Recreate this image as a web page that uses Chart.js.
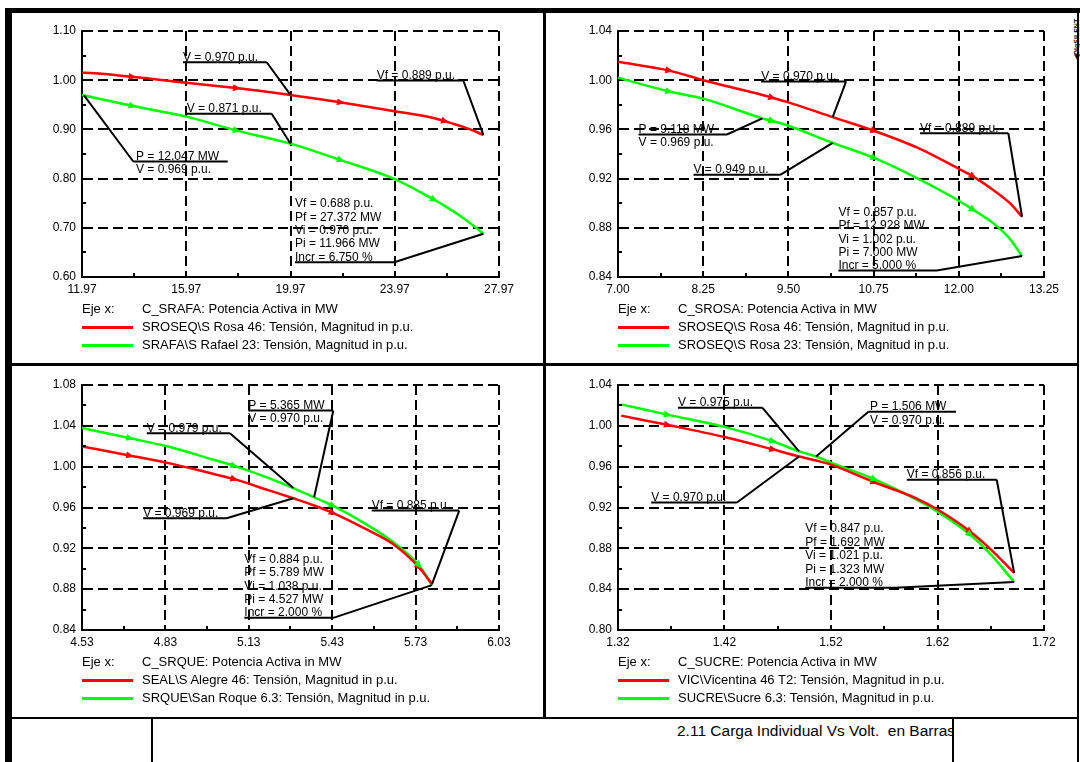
<!DOCTYPE html>
<html>
<head>
<meta charset="utf-8">
<script src="https://cdn.jsdelivr.net/npm/chart.js@4/dist/chart.umd.min.js"></script>
<style>
  html, body { margin: 0; padding: 0; background: #fff; }
  #page { position: relative; width: 1080px; height: 762px; overflow: hidden; background: #fff;
          font-family: "Liberation Sans", Arial, sans-serif; color: #000; }
  .bar { position: absolute; background: #000; }
  canvas { position: absolute; }
  .txt { position: absolute; font-size: 13px; line-height: 14px; white-space: nowrap; color: #000; }
  .key { position: absolute; height: 3px; }
  #title { position: absolute; left: 677px; top: 722px; width: 275px; height: 20px; overflow: hidden;
           font-size: 15.5px; line-height: 18px; white-space: nowrap; }
  #logo { position: absolute; left: 1052px; top: 30px; width: 50px; height: 10px; transform: rotate(-90deg);
          font-size: 7px; font-weight: bold; line-height: 10px; white-space: nowrap; }
</style>
</head>
<body>
<div id="page">
  <div id="title">2.11 Carga Individual Vs Volt.&nbsp; en Barras</div>
  <div id="logo">&#9664;DIgSILENT</div>
</div>
<script>
// ---------- C_SRAFA sweep ----------
const xTicks1 = [11.97, 15.97, 19.97, 23.97, 27.97];
const yTicks1 = [0.60, 0.70, 0.80, 0.90, 1.00, 1.10];
const P1     = [11.966, 12.047, 13.88, 15.97, 17.88, 19.97, 21.87, 23.97, 25.45, 25.87, 26.70, 27.372];
const red1   = [1.015, 1.015, 1.007, 0.995, 0.984, 0.970, 0.955, 0.937, 0.923, 0.917, 0.903, 0.889];
const green1 = [0.970, 0.969, 0.948, 0.926, 0.898, 0.871, 0.838, 0.799, 0.758, 0.745, 0.716, 0.688];
const incr1 = 6.750;
const axisTitle1 = "C_SRAFA: Potencia Activa in MW";
const names1 = ["SROSEQ\\S Rosa 46: Tensión, Magnitud in p.u.", "SRAFA\\S Rafael 23: Tensión, Magnitud in p.u."];

// ---------- C_SROSA sweep ----------
const xTicks2 = [7.00, 8.25, 9.50, 10.75, 12.00, 13.25];
const yTicks2 = [0.84, 0.88, 0.92, 0.96, 1.00, 1.04];
const P2     = [7.000, 7.74, 8.25, 9.118, 9.25, 9.50, 10.15, 10.75, 11.40, 12.00, 12.20, 12.50, 12.75, 12.928];
const red2   = [1.015, 1.008, 1.000, 0.988, 0.986, 0.982, 0.970, 0.959, 0.945, 0.928, 0.922, 0.911, 0.900, 0.889];
const green2 = [1.002, 0.991, 0.985, 0.969, 0.967, 0.963, 0.949, 0.937, 0.920, 0.902, 0.895, 0.884, 0.871, 0.857];
const incr2 = 5.000;
const axisTitle2 = "C_SROSA: Potencia Activa in MW";
const names2 = ["SROSEQ\\S Rosa 46: Tensión, Magnitud in p.u.", "SROSEQ\\S Rosa 23: Tensión, Magnitud in p.u."];

// ---------- C_SRQUE sweep ----------
const xTicks3 = [4.53, 4.83, 5.13, 5.43, 5.73, 6.03];
const yTicks3 = [0.84, 0.88, 0.92, 0.96, 1.00, 1.04, 1.08];
const P3     = [4.527, 4.70, 4.85, 5.00, 5.075, 5.20, 5.29, 5.365, 5.43, 5.55, 5.65, 5.74, 5.789];
const red3   = [1.020, 1.011, 1.003, 0.993, 0.988, 0.977, 0.969, 0.962, 0.955, 0.939, 0.924, 0.902, 0.885];
const green3 = [1.038, 1.028, 1.019, 1.007, 1.001, 0.989, 0.979, 0.970, 0.962, 0.944, 0.926, 0.904, 0.884];
const incr3 = 2.000;
const axisTitle3 = "C_SRQUE: Potencia Activa in MW";
const names3 = ["SEAL\\S Alegre 46: Tensión, Magnitud in p.u.", "SRQUE\\San Roque 6.3: Tensión, Magnitud in p.u."];

// ---------- C_SUCRE sweep ----------
const xTicks4 = [1.32, 1.42, 1.52, 1.62, 1.72];
const yTicks4 = [0.80, 0.84, 0.88, 0.92, 0.96, 1.00, 1.04];
const P4     = [1.323, 1.366, 1.42, 1.465, 1.49, 1.506, 1.52, 1.56, 1.60, 1.62, 1.65, 1.67, 1.692];
const red4   = [1.010, 1.001, 0.989, 0.977, 0.970, 0.966, 0.962, 0.945, 0.929, 0.918, 0.897, 0.879, 0.856];
const green4 = [1.021, 1.011, 0.999, 0.985, 0.975, 0.970, 0.964, 0.948, 0.928, 0.916, 0.894, 0.874, 0.847];
const incr4 = 2.000;
const axisTitle4 = "C_SUCRE: Potencia Activa in MW";
const names4 = ["VIC\\Vicentina 46 T2: Tensión, Magnitud in p.u.", "SUCRE\\Sucre 6.3: Tensión, Magnitud in p.u."];

// direction arrows (indices into the sweep)
const arrows1 = { red: [2, 4, 6, 9], green: [2, 4, 6, 8] };
const arrows2 = { red: [1, 4, 7, 10], green: [1, 4, 7, 10] };
const arrows3 = { red: [1, 4, 8, 11], green: [1, 4, 8, 11] };
const arrows4 = { red: [1, 3, 7, 10], green: [1, 3, 7, 10] };

const FONT = '"Liberation Sans", Arial, sans-serif';
Chart.defaults.font.family = FONT;

const last = a => a.length - 1;
const fmtV = (k, v) => `${k} = ${v.toFixed(3)} p.u.`;
const fmtP = (k, p) => `${k} = ${p.toFixed(3)} MW`;
function infoLines(P, g, incr) {
  const n = last(P);
  return [fmtV('Vf', g[n]), fmtP('Pf', P[n]), fmtV('Vi', g[0]), fmtP('Pi', P[0]), `Incr = ${incr.toFixed(3)} %`];
}

// text callouts: anchor (x, y) in axis units, underline to x2, leader to point pt of dataset ds
const notes1 = [
  { ds: 0, pt: 5, x: 15.845, y: 1.0396, text: [fmtV('V', red1[5])], x2: 19.057 },
  { ds: 0, pt: last(P1), x: 23.277, y: 1.0024, text: [fmtV('Vf', red1[last(red1)])], x2: 26.60 },
  { ds: 1, pt: 5, x: 15.987, y: 0.9348, text: [fmtV('V', green1[5])], x2: 19.249 },
  { ds: 1, pt: 1, x: 14.042, y: 0.8378, text: [fmtP('P', P1[1]), fmtV('V', green1[1])], x1: 13.938, x2: 17.56, from: 'left' },
  { ds: 1, pt: last(P1), x: 20.143, y: 0.7413, text: infoLines(P1, green1, incr1), x2: 23.95, ul: 4 }
];
const notes2 = [
  { ds: 0, pt: 6, x: 9.101, y: 1.0002, text: [fmtV('V', red2[6])], x2: 10.347 },
  { ds: 0, pt: last(P2), x: 11.432, y: 0.9581, text: [fmtV('Vf', red2[last(red2)])], x2: 12.727 },
  { ds: 1, pt: 3, x: 7.302, y: 0.9571, text: [fmtP('P', P2[3]), fmtV('V', green2[3])], x2: 8.598 },
  { ds: 1, pt: 6, x: 8.108, y: 0.9243, text: [fmtV('V', green2[6])], x2: 9.380 },
  { ds: 1, pt: last(P2), x: 10.234, y: 0.8894, text: infoLines(P2, green2, incr2), x2: 11.677, ul: 4, gap: 13.2 }
];
const notes3 = [
  { ds: 1, pt: 7, x: 5.128, y: 1.0565, text: [fmtP('P', P3[7]), fmtV('V', green3[7])], x2: 5.434 },
  { ds: 1, pt: 6, x: 4.763, y: 1.0343, text: [fmtV('V', green3[6])], x2: 5.062 },
  { ds: 0, pt: 6, x: 4.750, y: 0.951, text: [fmtV('V', red3[6])], x2: 5.050 },
  { ds: 0, pt: last(P3), x: 5.572, y: 0.9585, text: [fmtV('Vf', red3[last(red3)])], x2: 5.887 },
  { ds: 1, pt: last(P3), x: 5.114, y: 0.9055, text: infoLines(P3, green3, incr3), x2: 5.434, ul: 4 }
];
const notes4 = [
  { ds: 1, pt: 4, x: 1.3763, y: 1.0191, text: [fmtV('V', green4[4])], x2: 1.4557 },
  { ds: 1, pt: 5, x: 1.5567, y: 1.0152, text: [fmtP('P', P4[5]), fmtV('V', green4[5])], x1: 1.5551, x2: 1.6374, from: 'left' },
  { ds: 0, pt: 4, x: 1.3512, y: 0.9264, text: [fmtV('V', red4[4])], x2: 1.4317 },
  { ds: 0, pt: last(P4), x: 1.5912, y: 0.9486, text: [fmtV('Vf', red4[last(red4)])], x2: 1.6756 },
  { ds: 1, pt: last(P4), x: 1.4958, y: 0.8957, text: infoLines(P4, green4, incr4), x2: 1.5802, ul: 4, gap: 13.5 }
];

// plot rectangles on the sheet: [left, top, right, bottom]
const panels = [
  { rect: [82, 31, 499, 277],    P: P1, red: red1, green: green1, xTicks: xTicks1, yTicks: yTicks1, title: axisTitle1, names: names1, arrows: arrows1, notes: notes1 },
  { rect: [618, 31, 1044, 277],  P: P2, red: red2, green: green2, xTicks: xTicks2, yTicks: yTicks2, title: axisTitle2, names: names2, arrows: arrows2, notes: notes2 },
  { rect: [82, 385, 499, 630],   P: P3, red: red3, green: green3, xTicks: xTicks3, yTicks: yTicks3, title: axisTitle3, names: names3, arrows: arrows3, notes: notes3 },
  { rect: [618, 385, 1044, 630], P: P4, red: red4, green: green4, xTicks: xTicks4, yTicks: yTicks4, title: axisTitle4, names: names4, arrows: arrows4, notes: notes4 }
];

const page = document.getElementById('page');

function addBar(l, t, w, h) {
  const d = document.createElement('div');
  d.className = 'bar';
  Object.assign(d.style, { left: l + 'px', top: t + 'px', width: w + 'px', height: h + 'px' });
  page.appendChild(d);
}
function addText(l, cy, s) {
  const d = document.createElement('div');
  d.className = 'txt';
  d.textContent = s;
  Object.assign(d.style, { left: l + 'px', top: (cy - 7) + 'px' });
  page.appendChild(d);
}

// overlay: direction arrows, minor ticks, callouts
function decorPlugin(panel) {
  return {
    id: 'decor',
    afterDatasetsDraw(chart) {
      const ctx = chart.ctx;
      const xs = chart.scales.x, ys = chart.scales.y, ca = chart.chartArea;
      ctx.save();
      // minor ticks, pointing inward
      ctx.strokeStyle = '#000';
      ctx.lineWidth = 2;
      ctx.setLineDash([]);
      for (let i = 0; i < panel.xTicks.length - 1; i++) {
        const px = Math.round(xs.getPixelForValue((panel.xTicks[i] + panel.xTicks[i + 1]) / 2));
        ctx.beginPath(); ctx.moveTo(px, ca.bottom); ctx.lineTo(px, ca.bottom - 4); ctx.stroke();
      }
      for (let i = 0; i < panel.yTicks.length - 1; i++) {
        const py = Math.round(ys.getPixelForValue((panel.yTicks[i] + panel.yTicks[i + 1]) / 2));
        ctx.beginPath(); ctx.moveTo(ca.left, py); ctx.lineTo(ca.left + 4, py); ctx.stroke();
      }
      // direction arrows along each curve
      chart.data.datasets.forEach((ds, di) => {
        const pts = chart.getDatasetMeta(di).data;
        (ds.arrowAt || []).forEach(k => {
          const p = pts[k], a = pts[Math.max(k - 1, 0)], b = pts[Math.min(k + 1, pts.length - 1)];
          let dx = b.x - a.x, dy = b.y - a.y;
          const len = Math.hypot(dx, dy) || 1; dx /= len; dy /= len;
          const nx = -dy, ny = dx;
          ctx.fillStyle = ds.borderColor;
          ctx.beginPath();
          ctx.moveTo(p.x + dx * 5, p.y + dy * 5);
          ctx.lineTo(p.x - dx * 3 + nx * 3.5, p.y - dy * 3 + ny * 3.5);
          ctx.lineTo(p.x - dx * 3 - nx * 3.5, p.y - dy * 3 - ny * 3.5);
          ctx.closePath();
          ctx.fill();
        });
      });
      // callouts
      ctx.fillStyle = '#000';
      ctx.strokeStyle = '#000';
      ctx.lineWidth = 2;
      ctx.font = '12px ' + FONT;
      ctx.textBaseline = 'alphabetic';
      ctx.textAlign = 'left';
      panel.notes.forEach(n => {
        const gap = n.gap || 13.3;
        const tx = xs.getPixelForValue(n.x), ty = ys.getPixelForValue(n.y);
        n.text.forEach((s, i) => ctx.fillText(s, tx, ty + i * gap));
        const uy = ty + (n.ul || 0) * gap + 1.5;
        const ux1 = xs.getPixelForValue(n.x1 !== undefined ? n.x1 : n.x);
        const ux2 = xs.getPixelForValue(n.x2);
        const target = chart.getDatasetMeta(n.ds).data[n.pt];
        const sx = n.from === 'left' ? ux1 : ux2;
        ctx.beginPath();
        ctx.moveTo(ux1, uy); ctx.lineTo(ux2, uy);
        ctx.moveTo(sx, uy); ctx.lineTo(target.x, target.y);
        ctx.stroke();
      });
      ctx.restore();
    }
  };
}

panels.forEach(pn => {
  const [L, T, R, B] = pn.rect;
  const padL = 30, yW = 40, padT = 17, padR = 30, xH = 20, padB = 17;
  const cv = document.createElement('canvas');
  const cw = (R - L) + padL + yW + padR, ch = (B - T) + padT + xH + padB;
  cv.width = cw; cv.height = ch;
  cv.style.left = (L - padL - yW) + 'px';
  cv.style.top = (T - padT) + 'px';
  cv.style.width = cw + 'px'; cv.style.height = ch + 'px';
  page.appendChild(cv);

  const mk = vals => pn.P.map((p, i) => ({ x: p, y: vals[i] }));
  const tickFont = { family: FONT, size: 12 };
  const chart = new Chart(cv, {
    type: 'line',
    data: {
      datasets: [
        { label: pn.names[0], data: mk(pn.red), borderColor: '#ff0000', backgroundColor: '#ff0000', borderWidth: 2.5,
          pointRadius: 0, cubicInterpolationMode: 'monotone', fill: false, arrowAt: pn.arrows.red },
        { label: pn.names[1], data: mk(pn.green), borderColor: '#00ff00', backgroundColor: '#00ff00', borderWidth: 2.5,
          pointRadius: 0, cubicInterpolationMode: 'monotone', fill: false, arrowAt: pn.arrows.green }
      ]
    },
    options: {
      responsive: false, animation: false, events: [], devicePixelRatio: 1,
      layout: { padding: { left: padL, top: padT, right: padR, bottom: padB } },
      plugins: { legend: { display: false }, tooltip: { enabled: false } },
      scales: {
        x: {
          type: 'linear', min: pn.xTicks[0], max: pn.xTicks[pn.xTicks.length - 1],
          afterBuildTicks: s => { s.ticks = pn.xTicks.map(v => ({ value: v })); },
          afterFit: s => { s.height = xH; },
          ticks: { callback: v => v.toFixed(2), color: '#000', font: tickFont, padding: 5, maxRotation: 0, autoSkip: false },
          grid: { color: '#000', lineWidth: 2, drawTicks: false },
          border: { display: true, color: '#000', width: 2, dash: [10, 5] }
        },
        y: {
          type: 'linear', min: pn.yTicks[0], max: pn.yTicks[pn.yTicks.length - 1],
          afterBuildTicks: s => { s.ticks = pn.yTicks.map(v => ({ value: v })); },
          afterFit: s => { s.width = yW; },
          ticks: { callback: v => v.toFixed(2), color: '#000', font: tickFont, padding: 6, autoSkip: false },
          grid: { color: '#000', lineWidth: 2, drawTicks: false },
          border: { display: true, color: '#000', width: 2, dash: [10, 5] }
        }
      }
    },
    plugins: [decorPlugin(pn)]
  });

  // legend block under the plot, built from the datasets
  addText(L, B + 32, 'Eje x:');
  addText(L + 60, B + 32, pn.title);
  chart.data.datasets.forEach((ds, i) => {
    const cy = B + 50 + i * 18;
    const k = document.createElement('div');
    k.className = 'key';
    Object.assign(k.style, { left: L + 'px', top: (cy - 1) + 'px', width: '51px', background: ds.borderColor });
    page.appendChild(k);
    addText(L + 60, cy, ds.label);
  });
});

// sheet frame
addBar(5, 8, 1075, 5);       // top edge
addBar(5, 8, 7, 754);        // left edge
addBar(1077, 8, 2, 754);     // right edge
addBar(543, 13, 3, 704);     // centre divider
addBar(12, 363, 1066, 3);    // middle divider
addBar(12, 717, 1066, 2);    // title block top
addBar(151, 719, 2, 43);
addBar(952, 719, 2, 43);
</script>
</body>
</html>
